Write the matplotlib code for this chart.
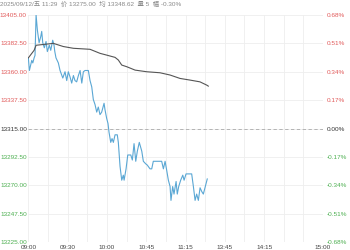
import numpy as np
import matplotlib
matplotlib.use("Agg")
import matplotlib.pyplot as plt

plt.rcParams['font.family'] = ['Liberation Sans', 'Noto Sans CJK SC', 'DejaVu Sans']

#%% data (x = trading minute since 09:00)

base = 13315.0
yticks = [13225.00, 13247.50, 13270.00, 13292.50, 13315.00, 13337.50, 13360.00, 13382.50, 13405.00]
pct_labels = ["-0.68%", "-0.51%", "-0.34%", "-0.17%", "0.00%", "0.17%", "0.34%", "0.51%", "0.68%"]
xtick_pos = [0, 30, 60, 90, 120, 150, 180, 225]
xtick_labels = ["09:00", "09:30", "10:00", "10:45", "11:15", "13:45", "14:15", "15:00"]

price_t = [0, 0.8, 2.6, 3.4, 4.4, 5.1, 5.9, 6.9, 8.2, 9.5, 10.2, 11.0, 12.2, 13.5, 14.5,
           16.0, 17.1, 18.6, 19.6, 20.2, 21.1, 22.9, 24.2, 26.3, 28.0, 29.3, 30.5, 31.8,
           33.1, 34.4, 35.6, 36.9, 38.2, 39.5, 40.8, 42.0, 43.3, 45.8, 47.1, 48.4, 49.6,
           50.9, 52.2, 53.4, 54.7, 56.0, 57.8, 58.5, 59.8, 60.8, 61.6, 62.9, 63.9, 64.9,
           66.2, 67.9, 68.7, 70.0, 71.3, 72.5, 73.1, 74.6, 75.9, 78.2, 79.4, 80.7, 82.0,
           83.2, 84.7, 86.6, 87.8, 89.6, 90.8, 92.9, 94.2, 95.4, 100.5, 101.8, 103.1,
           104.4, 105.6, 106.9, 108.2, 108.9, 110.2, 111.2, 112.8, 113.7, 114.8, 116.3,
           117.9, 118.9, 120.4, 124.7, 126.0, 127.3, 128.5, 129.8, 131.1, 132.4, 133.6,
           135.1, 136.6]
price = [13371, 13361, 13369, 13367, 13371, 13373, 13405, 13393, 13383, 13388, 13392,
         13383, 13379, 13384, 13376, 13381, 13377, 13385, 13381, 13376, 13371, 13367,
         13361, 13355, 13360, 13353, 13360, 13356, 13351, 13357, 13353, 13352, 13357,
         13361, 13351, 13360, 13361, 13361, 13353, 13348, 13338, 13334, 13328, 13332,
         13326, 13328, 13335, 13330, 13323, 13319, 13312, 13304, 13307, 13304, 13310,
         13310, 13304, 13285, 13274, 13278, 13274, 13283, 13294, 13294, 13290, 13303,
         13289, 13297, 13304, 13297, 13289, 13287, 13286, 13283, 13283, 13289, 13289,
         13289, 13283, 13289, 13282, 13274, 13269, 13258, 13269, 13263, 13273, 13263,
         13269, 13274, 13278, 13274, 13279, 13279, 13269, 13258, 13263, 13258, 13268,
         13265, 13263, 13269, 13275]

avg_t = [0, 4.4, 5.9, 19.1, 26.7, 34.4, 47.1, 54.7, 59.8, 66.2, 68.7, 71.3, 75.1, 81.5,
         90.4, 100.5, 108.2, 115.8, 123.4, 131.0, 136.2, 137.4]
avg = [13371, 13377, 13381, 13382.5, 13380, 13378.6, 13377.8, 13374.6, 13373.2, 13371.4,
       13369.3, 13365.3, 13364, 13361.3, 13360, 13359.2, 13357.4, 13354.7, 13353.4,
       13352, 13349.4, 13348.6]

title = "2025/09/12/五 11:29  价 13275.00  均 13348.62  量 5  幅 -0.30%"

#%% plot

fig = plt.figure(figsize=(3.5, 2.5), dpi=100)
ax = fig.add_axes([0.081, 0.032, 0.842, 0.908])

ax.plot(price_t, price, color="#5aa7d4", lw=0.8)
ax.plot(avg_t, avg, color="#555555", lw=0.8)

ax.set_xlim(0, 225)
ax.set_ylim(yticks[0], yticks[-1])
ax.set_xticks(np.arange(0, 226, 15), minor=True)
ax.set_xticks(xtick_pos)
ax.set_xticklabels(xtick_labels)
ax.set_yticks(yticks)
ax.set_yticklabels(["%.2f" % v for v in yticks])

ax.grid(True, which="both", axis="x", color="#eeeeee", lw=0.6)
ax.grid(True, axis="y", color="#eeeeee", lw=0.6)
ax.axhline(base, color="#aaaaaa", lw=0.6, ls=(0, (4, 3)))
for s in ax.spines.values():
    s.set_visible(False)
ax.tick_params(length=0, which="both", labelsize=4.6, pad=1)
ax.tick_params(axis="x", colors="#444444", pad=2)

def col(v):
    if v > base:
        return "#e15a5a"
    if v < base:
        return "#4caf50"
    return "#333333"

for lab, v in zip(ax.get_yticklabels(), yticks):
    lab.set_color(col(v))

ax2 = ax.twinx()
ax2.set_ylim(ax.get_ylim())
ax2.set_yticks(yticks)
ax2.set_yticklabels(pct_labels)
for s in ax2.spines.values():
    s.set_visible(False)
ax2.tick_params(length=0, labelsize=4.6, pad=3)
for lab, v in zip(ax2.get_yticklabels(), yticks):
    lab.set_color(col(v))

fig.text(0.0, 1 - 3.5 / 250, title, fontsize=4.6, color="#888888", va="center", ha="left")

fig.savefig("out.png", dpi=100)
